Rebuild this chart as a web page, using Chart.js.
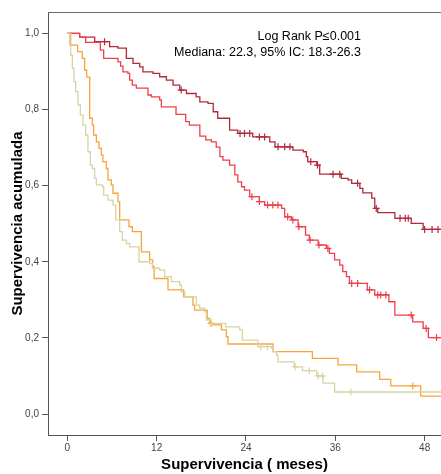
<!DOCTYPE html>
<html>
<head>
<meta charset="utf-8">
<script src="https://cdn.jsdelivr.net/npm/chart.js@4.4.1/dist/chart.umd.min.js"></script>
<style>
  html,body{margin:0;padding:0;background:#fff;}
  canvas{display:block;}
</style>
</head>
<body>
<canvas id="km" width="441" height="474"></canvas>
<script>
// Kaplan-Meier: tiempo (meses) de cada evento y supervivencia tras el evento
const finSeguimiento = 50.2;

const tiempos1 = [0, 1.65, 3.67, 5.68, 6.8, 7.93, 8.82, 9.72, 10.16, 11.5, 12.4, 13.3, 14.2, 15.1, 16.0, 17.3, 17.8, 18.9, 19.6, 20.2, 21.8, 22.9, 24.9, 27.2, 27.9, 30.3, 31.7, 32.1, 32.3, 33.5, 33.9, 36.8, 37.7, 38.2, 39.3, 39.7, 40.9, 41.3, 41.7, 44.0, 46.2, 47.8];
const superv1  = [1.0, 0.99, 0.978, 0.965, 0.961, 0.934, 0.921, 0.912, 0.899, 0.895, 0.886, 0.877, 0.864, 0.851, 0.842, 0.833, 0.820, 0.816, 0.794, 0.777, 0.746, 0.737, 0.728, 0.715, 0.702, 0.693, 0.689, 0.676, 0.663, 0.654, 0.630, 0.619, 0.615, 0.606, 0.593, 0.581, 0.567, 0.540, 0.529, 0.514, 0.501, 0.485];
const censura1 = [5.0, 15.3, 23.2, 23.8, 24.5, 25.8, 26.5, 28.3, 29.2, 29.9, 32.7, 33.6, 35.7, 36.6, 39.0, 41.5, 44.7, 45.4, 45.8, 48.0, 49.0, 49.8];

const tiempos2 = [0, 1.65, 2.46, 4.43, 4.88, 6.8, 7.16, 7.47, 8.14, 8.37, 8.73, 9.27, 10.83, 11.29, 12.4, 12.63, 14.6, 15.9, 16.4, 17.8, 18.6, 19.35, 20.0, 20.5, 20.9, 21.8, 22.5, 22.9, 23.4, 23.8, 24.5, 25.8, 26.5, 28.8, 29.2, 30.1, 31.0, 32.0, 32.5, 33.7, 34.8, 35.2, 35.9, 36.6, 37.0, 37.5, 37.9, 40.3, 41.3, 43.2, 44.0, 46.4, 47.8, 48.5];
const superv2  = [1.0, 0.99, 0.976, 0.956, 0.934, 0.925, 0.914, 0.899, 0.895, 0.877, 0.864, 0.856, 0.838, 0.833, 0.825, 0.807, 0.787, 0.768, 0.759, 0.730, 0.720, 0.715, 0.701, 0.676, 0.667, 0.654, 0.628, 0.610, 0.597, 0.588, 0.571, 0.558, 0.549, 0.540, 0.518, 0.510, 0.492, 0.470, 0.457, 0.444, 0.435, 0.422, 0.405, 0.391, 0.374, 0.361, 0.343, 0.326, 0.313, 0.295, 0.260, 0.242, 0.225, 0.201];
const censura2 = [24.8, 25.8, 26.9, 27.6, 28.3, 29.6, 30.3, 31.1, 32.6, 33.8, 35.0, 38.2, 39.0, 40.6, 41.7, 42.1, 42.8, 46.2, 48.2, 49.6];

const tiempos3 = [0, 0.44, 1.38, 2.0, 2.32, 2.6, 3.0, 3.36, 3.53, 3.9, 4.25, 4.57, 4.78, 5.24, 5.46, 5.91, 6.13, 6.8, 7.03, 8.28, 8.73, 9.94, 11.06, 11.46, 11.66, 13.52, 15.63, 16.88, 17.1, 18.79, 19.12, 19.57, 20.7, 21.37, 21.58, 27.63, 32.92, 36.36, 38.88, 41.97, 43.45, 47.48];
const superv3  = [1.0, 0.969, 0.952, 0.934, 0.903, 0.885, 0.777, 0.759, 0.733, 0.715, 0.698, 0.680, 0.663, 0.645, 0.615, 0.602, 0.580, 0.558, 0.510, 0.492, 0.479, 0.426, 0.405, 0.387, 0.356, 0.326, 0.308, 0.286, 0.273, 0.251, 0.238, 0.234, 0.221, 0.203, 0.184, 0.164, 0.146, 0.129, 0.111, 0.091, 0.074, 0.047];
const censura3 = [19.3, 46.4];

const tiempos4 = [0, 0.31, 0.44, 0.67, 0.89, 1.12, 1.42, 1.75, 2.1, 2.46, 2.77, 3.09, 3.36, 3.67, 3.9, 4.7, 4.88, 5.46, 6.13, 6.49, 7.03, 7.39, 7.93, 8.37, 9.62, 11.06, 11.42, 12.4, 13.07, 13.98, 15.09, 15.32, 15.76, 17.33, 17.78, 18.45, 18.68, 19.35, 21.27, 23.15, 23.5, 25.6, 27.4, 27.6, 28.1, 28.3, 30.5, 31.6, 33.5, 34.35, 35.9];
const superv4  = [1.0, 0.969, 0.943, 0.908, 0.873, 0.847, 0.812, 0.785, 0.759, 0.733, 0.689, 0.654, 0.645, 0.619, 0.602, 0.597, 0.575, 0.562, 0.549, 0.510, 0.479, 0.457, 0.448, 0.439, 0.400, 0.396, 0.383, 0.378, 0.361, 0.348, 0.339, 0.321, 0.308, 0.286, 0.278, 0.269, 0.247, 0.238, 0.229, 0.221, 0.194, 0.177, 0.173, 0.164, 0.155, 0.137, 0.124, 0.114, 0.100, 0.081, 0.058];
const censura4 = [26.0, 26.9, 30.6, 32.5, 33.7, 34.3, 38.1];

const ticksX = [0, 12, 24, 36, 48];
const ticksY = [0, 0.2, 0.4, 0.6, 0.8, 1.0];
const notas = ['Log Rank P\u22640.001', 'Mediana: 22.3, 95% IC: 18.3-26.3'];

const colores = ['#b3283a', '#ee3f4b', '#f8a43c', '#d8d5a2'];

function curva(t, s){
  const pts = t.map((v,i)=>({x:v, y:s[i]}));
  pts.push({x:finSeguimiento, y:s[s.length-1]});
  return pts;
}
function enCurva(t, s, c){
  return c.map(tc=>{
    let k = 0;
    for(let i=0;i<t.length;i++) if(t[i] <= tc) k = i;
    return {x:tc, y:s[k]};
  });
}

const grupos = [
  [tiempos4, superv4, censura4, colores[3]],
  [tiempos3, superv3, censura3, colores[2]],
  [tiempos2, superv2, censura2, colores[1]],
  [tiempos1, superv1, censura1, colores[0]]
];

const datasets = [];
grupos.forEach(([t,s,c,col])=>{
  datasets.push({data:curva(t,s), showLine:true, stepped:true, borderColor:col, borderWidth:1.3, pointRadius:0, fill:false});
  datasets.push({data:enCurva(t,s,c), showLine:false, pointStyle:'cross', pointRadius:3.5, borderColor:col, borderWidth:1.2, backgroundColor:col});
});

// marco superior y textos del log-rank
const textos = {
  id:'textos',
  afterDraw(chart){
    const {ctx, chartArea:a} = chart;
    ctx.save();
    ctx.strokeStyle = '#6b6b6b';
    ctx.lineWidth = 1;
    ctx.beginPath();
    ctx.moveTo(a.left, a.top + 0.5);
    ctx.lineTo(a.right, a.top + 0.5);
    ctx.stroke();
    ctx.fillStyle = '#000';
    ctx.textAlign = 'right';
    ctx.font = '12.5px "Liberation Sans", Arial, sans-serif';
    ctx.fillText(notas[0], a.right - 80, a.top + 28);
    ctx.fillText(notas[1], a.right - 80, a.top + 44);
    ctx.restore();
  }
};

const fuenteTicks = {family:'"Liberation Sans", Arial, sans-serif', size:10};
const fuenteTitulo = {family:'"Liberation Sans", Arial, sans-serif', size:15, weight:'bold'};

new Chart(document.getElementById('km'), {
  type:'scatter',
  data:{datasets},
  options:{
    responsive:false,
    animation:false,
    devicePixelRatio:1,
    layout:{autoPadding:false, padding:{top:12, right:0, left:0, bottom:0}},
    plugins:{legend:{display:false}, tooltip:{enabled:false}},
    scales:{
      x:{
        type:'linear', min:-2.6, max:finSeguimiento,
        afterBuildTicks:sc=>{ sc.ticks = ticksX.map(v=>({value:v})); },
        afterFit:sc=>{ sc.height = 39; },
        grid:{drawOnChartArea:false, drawTicks:true, tickLength:6, color:'#555'},
        border:{display:true, color:'#555', width:1},
        ticks:{font:fuenteTicks, color:'#444', padding:1, maxRotation:0},
        title:{display:true, text:'Supervivencia ( meses)', font:fuenteTitulo, color:'#000', padding:{top:0, bottom:0}}
      },
      y:{
        type:'linear', min:-0.055, max:1.056,
        afterBuildTicks:sc=>{ sc.ticks = ticksY.map(v=>({value:v})); },
        afterFit:sc=>{ sc.width = 48; },
        grid:{drawOnChartArea:false, drawTicks:true, tickLength:6, color:'#555'},
        border:{display:true, color:'#555', width:1},
        ticks:{font:fuenteTicks, color:'#444', padding:3, callback:v=>v.toFixed(1).replace('.', ',')},
        title:{display:true, text:'Supervivencia acumulada', font:fuenteTitulo, color:'#000', padding:{top:9, bottom:0}}
      }
    }
  },
  plugins:[textos]
});
</script>
</body>
</html>
